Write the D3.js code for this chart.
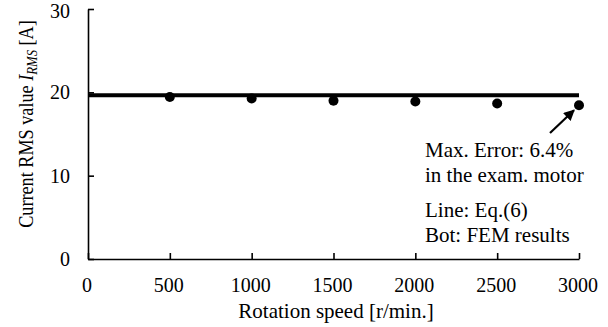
<!DOCTYPE html>
<html>
<head>
<meta charset="utf-8">
<script src="https://cdn.jsdelivr.net/npm/d3@7"></script>
<style>
  body { margin: 0; background: #fff; }
</style>
</head>
<body>
<svg id="chart" width="608" height="327" font-family="Liberation Serif"></svg>
<script>
// data
var speeds = [500, 1000, 1500, 2000, 2500, 3000];
var femValues = [19.45, 19.25, 19.0, 18.9, 18.65, 18.45];
var eqLine = [[0, 19.65], [3000, 19.65]];
var xTicks = [0, 500, 1000, 1500, 2000, 2500, 3000];
var yTicks = [0, 10, 20, 30];
var notes = ["Max. Error: 6.4%", "in the exam. motor", "Line: Eq.(6)", "Bot: FEM results"];

var fs = 21, tickFs = 20;

var svg = d3.select("#chart");

// scales
var x = d3.scaleLinear().domain([0, 3000]).range([88, 579]);
var y = d3.scaleLinear().domain([0, 30]).range([259, 9]);

// axes, ticks pointing inward
var xAxis = svg.append("g")
  .attr("transform", "translate(0," + y(0) + ")")
  .call(d3.axisBottom(x).tickValues(xTicks).tickFormat(d3.format("d"))
    .tickSizeInner(-6).tickSizeOuter(0));
var yAxis = svg.append("g")
  .attr("transform", "translate(" + x(0) + ",0)")
  .call(d3.axisLeft(y).tickValues(yTicks).tickFormat(d3.format("d"))
    .tickSizeInner(-6).tickSizeOuter(0));

[xAxis, yAxis].forEach(function(ax) {
  ax.attr("font-family", null).attr("font-size", tickFs);
  ax.select(".domain").attr("stroke", "#000").attr("stroke-width", 1.6);
  ax.selectAll(".tick line").attr("stroke", "#000").attr("stroke-width", 1.6);
  ax.selectAll(".tick text").attr("fill", "#000");
});
xAxis.selectAll(".tick text").attr("dy", 0).attr("y", 33).attr("dx", -1.5);
yAxis.selectAll(".tick text").attr("x", -18);
// keep the top label inside the frame
yAxis.selectAll(".tick text").filter(function(d) { return d === 30; }).attr("dy", "0.42em");

// Eq.(6) line
var line = d3.line().x(function(d) { return x(d[0]); }).y(function(d) { return y(d[1]); });
svg.append("path")
  .datum(eqLine)
  .attr("d", line)
  .attr("fill", "none")
  .attr("stroke", "#000")
  .attr("stroke-width", 4);

// FEM dots
svg.selectAll("circle.fem")
  .data(speeds)
  .enter().append("circle")
  .attr("class", "fem")
  .attr("cx", function(d) { return x(d); })
  .attr("cy", function(d, i) { return y(femValues[i]); })
  .attr("r", 5)
  .attr("fill", "#000");

// arrow to max error point
var defs = svg.append("defs");
defs.append("marker")
  .attr("id", "arrow")
  .attr("viewBox", "0 0 10 10")
  .attr("refX", 9).attr("refY", 5)
  .attr("markerWidth", 5).attr("markerHeight", 5)
  .attr("orient", "auto")
  .append("path").attr("d", "M0,0 L10,5 L0,10 z").attr("fill", "#000");

svg.append("line")
  .attr("x1", 550).attr("y1", 133)
  .attr("x2", x(3000) - 5).attr("y2", y(femValues[5]) + 5)
  .attr("stroke", "#000")
  .attr("stroke-width", 2.2)
  .attr("marker-end", "url(#arrow)");

// annotation text
var noteY = [157, 182, 217, 242];
svg.selectAll("text.note")
  .data(notes)
  .enter().append("text")
  .attr("class", "note")
  .attr("x", 425)
  .attr("y", function(d, i) { return noteY[i]; })
  .attr("font-size", fs)
  .text(function(d) { return d; });

// axis titles
svg.append("text")
  .attr("x", 336).attr("y", 318)
  .attr("text-anchor", "middle")
  .attr("font-size", fs)
  .text("Rotation speed [r/min.]");

// y title is a bit condensed along its length in the original
var yt = svg.append("text")
  .attr("transform", "translate(33,124) rotate(-90) scale(0.91,1)")
  .attr("text-anchor", "middle")
  .attr("font-size", 20);
yt.append("tspan").text("Current RMS value ");
yt.append("tspan").attr("font-style", "italic").text("I");
yt.append("tspan").attr("font-style", "italic").attr("dy", 4).attr("font-size", 14).text("RMS");
yt.append("tspan").attr("dy", -4).text(" [A]");
</script>
</body>
</html>
